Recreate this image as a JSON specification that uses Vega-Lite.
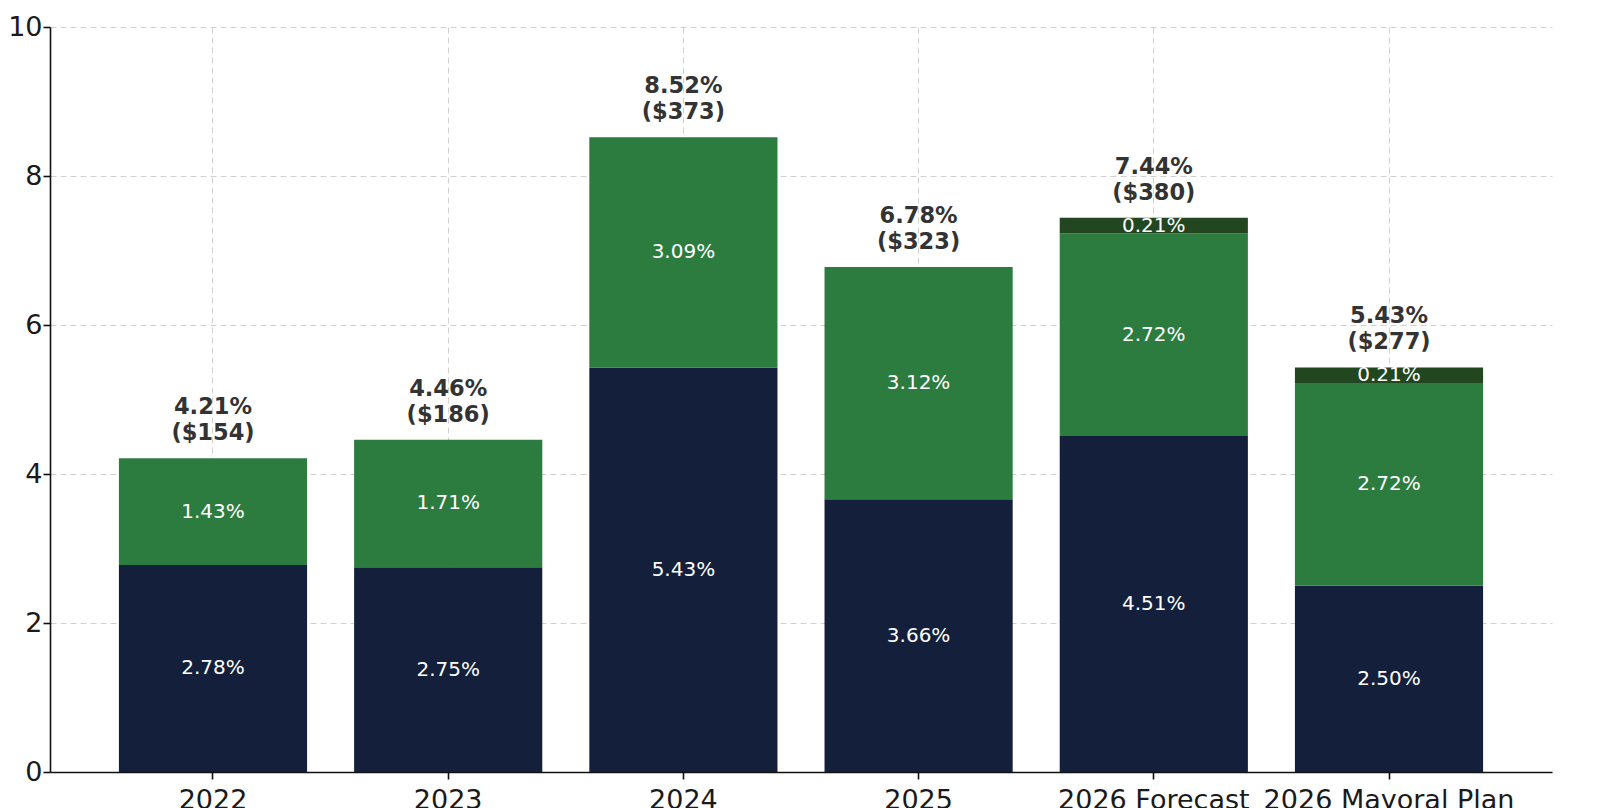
{
  "$schema": "https://vega.github.io/schema/vega-lite/v6.json",
  "autosize": {"type": "none"},
  "width": 1502,
  "height": 745,
  "padding": {"left": 50, "top": 27, "right": 66, "bottom": 36},
  "background": "white",
  "config": {
    "font": "DejaVu Sans",
    "view": {"stroke": null},
    "axis": {
      "labelFont": "DejaVu Sans",
      "labelFontSize": 27,
      "labelColor": "#1a1a1a",
      "domainColor": "#111111",
      "domainWidth": 1.6,
      "tickColor": "#111111",
      "tickWidth": 1.6,
      "tickSize": 7,
      "labelPadding": 4,
      "gridColor": "#c8c8c8",
      "gridDash": [6, 4],
      "gridWidth": 1,
      "gridOpacity": 0.85,
      "title": null,
      "zindex": 1
    }
  },
  "datasets": {
    "segments": [
      {"year": "2022", "segment": "base", "order": 1, "value": 2.78},
      {"year": "2022", "segment": "mid", "order": 2, "value": 1.43},
      {"year": "2023", "segment": "base", "order": 1, "value": 2.75},
      {"year": "2023", "segment": "mid", "order": 2, "value": 1.71},
      {"year": "2024", "segment": "base", "order": 1, "value": 5.43},
      {"year": "2024", "segment": "mid", "order": 2, "value": 3.09},
      {"year": "2025", "segment": "base", "order": 1, "value": 3.66},
      {"year": "2025", "segment": "mid", "order": 2, "value": 3.12},
      {"year": "2026 Forecast", "segment": "base", "order": 1, "value": 4.51},
      {"year": "2026 Forecast", "segment": "mid", "order": 2, "value": 2.72},
      {"year": "2026 Forecast", "segment": "top", "order": 3, "value": 0.21},
      {"year": "2026 Mayoral Plan", "segment": "base", "order": 1, "value": 2.50},
      {"year": "2026 Mayoral Plan", "segment": "mid", "order": 2, "value": 2.72},
      {"year": "2026 Mayoral Plan", "segment": "top", "order": 3, "value": 0.21}
    ],
    "totals": [
      {"year": "2022", "total": 4.21, "dollars": 154},
      {"year": "2023", "total": 4.46, "dollars": 186},
      {"year": "2024", "total": 8.52, "dollars": 373},
      {"year": "2025", "total": 6.78, "dollars": 323},
      {"year": "2026 Forecast", "total": 7.44, "dollars": 380},
      {"year": "2026 Mayoral Plan", "total": 5.43, "dollars": 277}
    ]
  },
  "encoding": {
    "x": {
      "field": "year",
      "type": "nominal",
      "sort": null,
      "scale": {"paddingInner": 0.2, "paddingOuter": 0.293},
      "axis": {"labelAngle": 0, "grid": true, "labelPadding": 8, "labelLimit": 0}
    }
  },
  "layer": [
    {
      "data": {"name": "segments"},
      "transform": [
        {"stack": "value", "groupby": ["year"], "sort": [{"field": "order", "order": "ascending"}], "as": ["v0", "v1"]},
        {"calculate": "(datum.v0 + datum.v1) / 2", "as": "mid"},
        {"calculate": "format(datum.value, '.2f') + '%'", "as": "lbl"}
      ],
      "layer": [
        {
          "mark": {"type": "bar"},
          "encoding": {
            "y": {
              "field": "v0",
              "type": "quantitative",
              "scale": {"domain": [0, 10], "nice": false},
              "axis": {"values": [0, 2, 4, 6, 8, 10], "grid": true, "format": "d", "labelPadding": 1}
            },
            "y2": {"field": "v1"},
            "color": {
              "field": "segment",
              "type": "nominal",
              "scale": {"domain": ["base", "mid", "top"], "range": ["#131f3b", "#2d7c3f", "#22461f"]},
              "legend": null
            }
          }
        },
        {
          "mark": {"type": "text", "color": "white", "fontSize": 20, "baseline": "middle", "align": "center"},
          "encoding": {
            "y": {"field": "mid", "type": "quantitative"},
            "text": {"field": "lbl"}
          }
        }
      ]
    },
    {
      "data": {"name": "totals"},
      "transform": [
        {"calculate": "[format(datum.total, '.2f') + '%', '($' + datum.dollars + ')']", "as": "lbl"}
      ],
      "mark": {"type": "text", "color": "#333333", "fontSize": 22.5, "fontWeight": "bold", "baseline": "bottom", "align": "center", "dy": -39, "lineHeight": 26},
      "encoding": {
        "y": {"field": "total", "type": "quantitative"},
        "text": {"field": "lbl"}
      }
    }
  ]
}
